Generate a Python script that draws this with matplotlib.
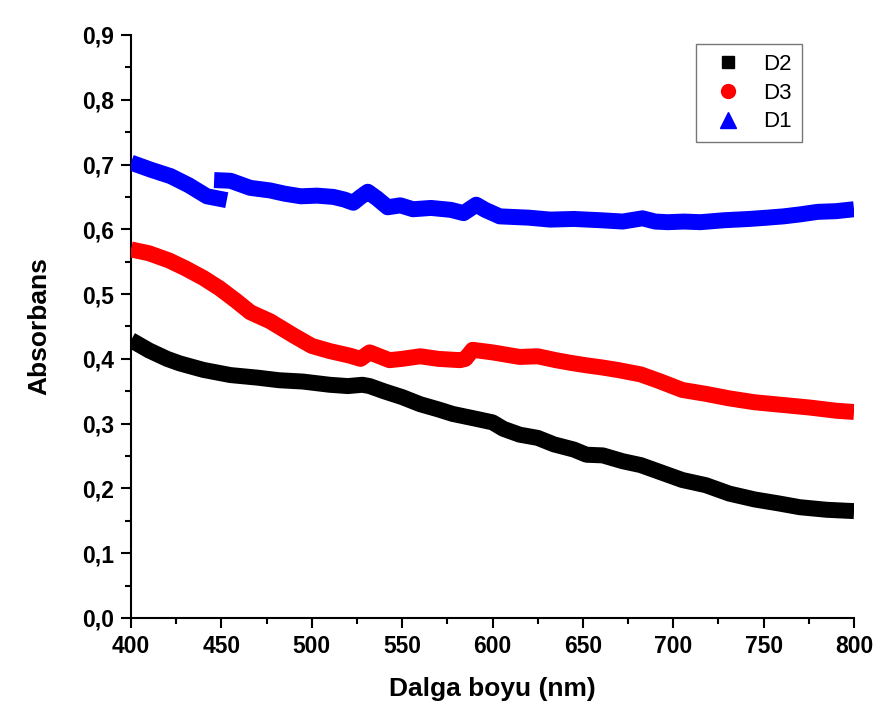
import numpy as np
import matplotlib
matplotlib.use('Agg')
import matplotlib.pyplot as plt
from matplotlib.lines import Line2D
from matplotlib.ticker import MultipleLocator, FuncFormatter

# D2 (black)
x_d2 = [400, 410, 420, 427, 440, 455, 470, 482, 495, 510, 520, 528, 532, 540, 550, 560, 570, 578, 590, 600, 606, 615, 625, 634, 645, 652, 661, 672, 682, 693, 705, 718, 731, 745, 758, 770, 785, 800]
y_d2 = [0.429, 0.413, 0.400, 0.393, 0.383, 0.375, 0.371, 0.367, 0.365, 0.360, 0.358, 0.360, 0.358, 0.350, 0.341, 0.330, 0.322, 0.315, 0.308, 0.302, 0.292, 0.283, 0.278, 0.268, 0.260, 0.252, 0.251, 0.242, 0.236, 0.225, 0.213, 0.205, 0.192, 0.183, 0.177, 0.171, 0.167, 0.165]

# D3 (red)
x_d3 = [400, 410, 421, 430, 440, 449, 458, 466, 477, 490, 500, 510, 521, 527, 532, 543, 550, 560, 570, 582, 585, 589, 600, 615, 625, 635, 643, 652, 660, 669, 682, 692, 705, 718, 731, 745, 760, 775, 790, 800]
y_d3 = [0.569, 0.563, 0.552, 0.540, 0.525, 0.509, 0.490, 0.472, 0.458, 0.436, 0.420, 0.412, 0.405, 0.400, 0.410, 0.398, 0.400, 0.404, 0.400, 0.398, 0.400, 0.414, 0.410, 0.403, 0.404, 0.398, 0.394, 0.390, 0.387, 0.383, 0.376, 0.366, 0.352, 0.346, 0.339, 0.333, 0.329, 0.325, 0.320, 0.318]

# D1 (blue), two scan segments
x_d1a = [400, 411, 422, 432, 442, 453]
y_d1a = [0.703, 0.692, 0.682, 0.668, 0.651, 0.645]
x_d1b = [446, 455, 466, 477, 485, 494, 503, 512, 518, 523, 527, 531, 536, 542, 549, 556, 566, 577, 584, 591, 596, 604, 612, 620, 632, 645, 660, 672, 683, 690, 697, 706, 715, 728, 742, 752, 761, 770, 780, 790, 800]
y_d1b = [0.676, 0.675, 0.664, 0.660, 0.655, 0.651, 0.652, 0.650, 0.646, 0.641, 0.650, 0.658, 0.648, 0.634, 0.637, 0.631, 0.633, 0.630, 0.625, 0.638, 0.630, 0.620, 0.619, 0.618, 0.615, 0.616, 0.614, 0.612, 0.617, 0.612, 0.611, 0.612, 0.611, 0.614, 0.616, 0.618, 0.620, 0.623, 0.627, 0.628, 0.631]

fig = plt.figure(figsize=(8.79, 7.26), dpi=100)
ax = fig.add_axes([0.149, 0.1488, 0.8226, 0.803])

lw = 11.5
ax.plot(x_d2, y_d2, color='black', lw=lw, solid_joinstyle='round', solid_capstyle='butt', zorder=3)
ax.plot(x_d3, y_d3, color='#ff0000', lw=lw, solid_joinstyle='round', solid_capstyle='butt', zorder=3)
x_d1 = x_d1a + [np.nan] + x_d1b
y_d1 = y_d1a + [np.nan] + y_d1b
ax.plot(x_d1, y_d1, color='#0000ff', lw=lw, solid_joinstyle='round', solid_capstyle='butt', zorder=3)

ax.set_xlim(400, 800)
ax.set_ylim(0, 0.9)

for s in ['top', 'right']:
    ax.spines[s].set_visible(False)
for s in ['left', 'bottom']:
    ax.spines[s].set_linewidth(1.5)

ax.xaxis.set_major_locator(MultipleLocator(50))
ax.xaxis.set_minor_locator(MultipleLocator(25))
ax.yaxis.set_major_locator(MultipleLocator(0.1))
ax.yaxis.set_minor_locator(MultipleLocator(0.05))
ax.yaxis.set_major_formatter(FuncFormatter(lambda v, p: '{:.1f}'.format(v).replace('.', ',')))
ax.tick_params(which='major', direction='out', length=7, width=1.5, pad=5)
ax.tick_params(which='minor', direction='out', length=4.5, width=1.5)

fam = ['Liberation Sans', 'DejaVu Sans']
for lab in ax.get_xticklabels() + ax.get_yticklabels():
    lab.set_family(fam)
    lab.set_fontweight('bold')
    lab.set_fontsize(16.5)

ax.set_xlabel('Dalga boyu (nm)', family=fam, fontweight='bold', fontsize=19, labelpad=14)
ax.set_ylabel('Absorbans', family=fam, fontweight='bold', fontsize=19, labelpad=22)

handles = [
    Line2D([], [], ls='none', marker='s', color='black', markersize=9),
    Line2D([], [], ls='none', marker='o', color='#ff0000', markersize=10),
    Line2D([], [], ls='none', marker='^', color='#0000ff', markersize=11),
]
leg = ax.legend(handles, ['D2', 'D3', 'D1'], loc='upper right', bbox_to_anchor=(0.928, 0.985),
                prop={'family': fam, 'size': 16}, fancybox=False, framealpha=1,
                edgecolor='#777777', handlelength=2.0, handletextpad=0.6,
                labelspacing=0.35, borderpad=0.45, borderaxespad=0)
leg.get_frame().set_linewidth(1.0)

fig.savefig('out.png', dpi=100)
